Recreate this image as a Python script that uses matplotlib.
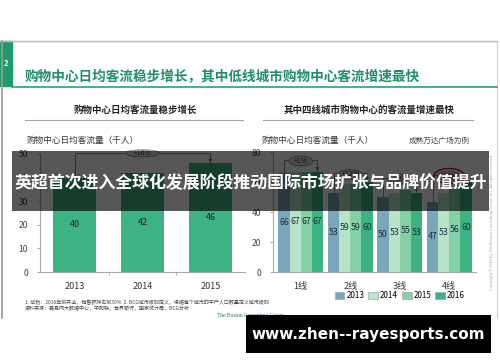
import matplotlib
matplotlib.use("Agg")
import matplotlib.pyplot as plt
from matplotlib.patches import Rectangle, Ellipse
import numpy as np

plt.rcParams['font.family'] = ['Noto Sans CJK SC', 'DejaVu Sans']

# ---------------- data ----------------
left_years = ["2013", "2014", "2015"]
left_values = [40, 42, 46]
left_growth = "+16%"

tiers = ["1线", "2线", "3线", "4线"]
series_years = ["2013", "2014", "2015", "2016"]
v2013 = [66, 53, 50, 47]
v2014 = [67, 59, 53, 53]
v2015 = [67, 59, 55, 56]
v2016 = [67, 60, 53, 60]
tier_growth = ["+1%", "+12%", "+6%", "+28%"]

W, H = 500, 362
fig = plt.figure(figsize=(W / 100, H / 100), dpi=100)
fig.patch.set_facecolor("white")


def fx(x):
    return x / W


def fy(y):
    return 1 - y / H


def add_ax(x0, y0, x1, y1):
    return fig.add_axes([fx(x0), fy(y1), fx(x1 - x0), (y1 - y0) / H])


# background overlay axis for slide decorations
bg = fig.add_axes([0, 0, 1, 1])
bg.set_xlim(0, W)
bg.set_ylim(H, 0)
bg.axis("off")
bg.set_zorder(0)

# slide frame
bg.plot([0, 497], [41, 41], color="#b5b5b5", lw=1)
bg.plot([2, 2], [41, 318], color="#9a9a9a", lw=1.2)
bg.plot([497, 497], [41, 318], color="#d0d0d0", lw=0.8)
bg.add_patch(Rectangle((0, 41), 12, 45, color="#1f9a6a"))
bg.text(6, 64, "2", color="white", fontsize=5.5, fontweight="bold", ha="center", va="center")
bg.plot([12, 497], [86.5, 86.5], color="#2aa07a", lw=1.2)
bg.text(25, 77, "购物中心日均客流稳步增长，其中低线城市购物中心客流增速最快",
        color="#1f8f64", fontsize=9.8, fontweight="bold", ha="left", va="center")

# subtitles
bg.text(135, 110, "购物中心日均客流量稳步增长", fontsize=6.8, fontweight="bold",
        color="#222222", ha="center", va="center")
bg.plot([25, 243], [120, 120], color="#9aa8a8", lw=0.8)
bg.text(369, 110, "其中四线城市购物中心的客流量增速最快", fontsize=6.8, fontweight="bold",
        color="#222222", ha="center", va="center")
bg.plot([263, 473], [120, 120], color="#9aa8a8", lw=0.8)

bg.text(27, 140, "购物中心日均客流量（千人）", fontsize=6.2, color="#333333", ha="left", va="center")
bg.text(262, 140, "购物中心日均客流量（千人）", fontsize=6.2, color="#333333", ha="left", va="center")
bg.text(470, 141, "成熟万达广场为例", fontsize=5.5, color="#444444", style="italic",
        ha="right", va="center")

# footnotes
bg.text(25, 302, "1. 成熟：2016年前开业，销售额排名前30%  2. BCG城市级别定义，根据每个城市的中产人口数量定义城市级别",
        fontsize=3.6, color="#444444", ha="left", va="center")
bg.text(25, 308, "资料来源：嘉易网大数据中心，中购联，世界银行，国家统计局，BCG分析",
        fontsize=3.6, color="#444444", ha="left", va="center")
bg.text(250, 316, "The Boston Consulting Group", fontsize=4, color="#2a6a50",
        ha="center", va="center", family="Liberation Serif")
bg.text(492, 222, "Copyright © 2016 by The Boston Consulting Group, Inc. All rights reserved.",
        fontsize=2.8, color="#a0a0a0", rotation=90, ha="center", va="center")

tick_color = "#444444"

# ---------------- left chart ----------------
axl = add_ax(40, 154, 245, 272)
axl.set_zorder(1)
axl.patch.set_alpha(0)
xl = np.arange(len(left_years))
axl.bar(xl, left_values, width=0.63, color="#3db383", zorder=2)
for x, v in zip(xl, left_values):
    axl.text(x, v / 2, str(v), ha="center", va="center", fontsize=6.5, color="#222222")
axl.set_xlim(-0.51, 2.51)
axl.set_ylim(0, 50)
axl.set_yticks([0, 10, 20, 30, 40, 50])
axl.set_xticks(xl)
axl.set_xticklabels(left_years)
axl.set_xticks([0.5, 1.5], minor=True)
axl.tick_params(axis="x", which="major", length=0, labelsize=6.5, colors="#333333", pad=7)
axl.tick_params(axis="x", which="minor", length=2.5, color="#aaaaaa")
axl.tick_params(axis="y", length=2.5, labelsize=6.2, colors=tick_color, color="#aaaaaa", pad=6)
for s in ["top", "right"]:
    axl.spines[s].set_visible(False)
for s in ["left", "bottom"]:
    axl.spines[s].set_color("#aaaaaa")
    axl.spines[s].set_linewidth(0.8)
# bracket
yb = 50.3
axl.plot([0, 0, 2, 2], [left_values[0], yb, yb, left_values[2] + 1.5], color="#777777", lw=0.6,
         clip_on=False, zorder=3)
axl.annotate("", xy=(2, left_values[2] + 0.3), xytext=(2, left_values[2] + 2),
             arrowprops=dict(arrowstyle="-|>", color="#777777", lw=0.6, mutation_scale=5),
             annotation_clip=False)
axl.add_patch(Ellipse((1.0, yb), 0.5, 3.0, facecolor="#dddddd", edgecolor="#888888", lw=0.6,
                      clip_on=False, zorder=4))
axl.text(1.0, yb, left_growth, fontsize=5, ha="center", va="center", color="#333333", zorder=5)

# ---------------- right chart ----------------
axr = add_ax(273, 152, 476, 272)
axr.set_zorder(1)
axr.patch.set_alpha(0)
xr = np.arange(len(tiers))
colors = ["#7aa6bc", "#b7e4c9", "#86d0a8", "#3db383"]
series = [v2013, v2014, v2015, v2016]
bw = 0.225
offsets = (np.arange(4) - 1.5) * bw
for i, (vals, c, lab) in enumerate(zip(series, colors, series_years)):
    axr.bar(xr + offsets[i], vals, width=bw, color=c, label=lab, zorder=2)
    for x, v in zip(xr + offsets[i], vals):
        axr.text(x, v / 2, str(v), ha="center", va="center", fontsize=6.3, color="#1e2e3e")
axr.set_xlim(-0.56, 3.54)
axr.set_ylim(0, 80)
axr.set_yticks([0, 20, 40, 60, 80])
axr.set_xticks(xr)
axr.set_xticklabels(tiers)
axr.tick_params(axis="x", length=0, labelsize=6.5, colors="#333333", pad=7)
axr.tick_params(axis="y", length=2.5, labelsize=6.2, colors=tick_color, color="#aaaaaa", pad=6)
for s in ["top", "right"]:
    axr.spines[s].set_visible(False)
for s in ["left", "bottom"]:
    axr.spines[s].set_color("#aaaaaa")
    axr.spines[s].set_linewidth(0.8)
bracket_y = [75, 66, 63, 65]
for i in range(4):
    y0 = v2013[i]
    y3 = v2016[i]
    yb = bracket_y[i]
    xa = xr[i] + offsets[0]
    xb = xr[i] + offsets[3]
    axr.plot([xa, xa, xb, xb], [y0, yb, yb, y3 + 2], color="#777777", lw=0.6,
             clip_on=False, zorder=3)
    axr.annotate("", xy=(xb, y3 + 0.3), xytext=(xb, y3 + 2.5),
                 arrowprops=dict(arrowstyle="-|>", color="#777777", lw=0.6, mutation_scale=5),
                 annotation_clip=False)
    axr.add_patch(Ellipse((xr[i], yb - 1), 0.48, 6.5, facecolor="#dddddd", edgecolor="#888888",
                          lw=0.6, clip_on=False, zorder=4))
    axr.text(xr[i], yb - 1, tier_growth[i], fontsize=5, ha="center", va="center",
             color="#333333", zorder=5)
    if i == 3:
        axr.add_patch(Ellipse((xr[i], yb - 1), 0.62, 10, facecolor="none", edgecolor="#b02020",
                              lw=1.0, clip_on=False, zorder=5))
leg = axr.legend(loc="upper center", bbox_to_anchor=(0.625, -0.135), ncol=4, frameon=False,
                 fontsize=5.8, handlelength=1.2, handleheight=0.9, handletextpad=0.25,
                 columnspacing=0.5, borderaxespad=0)
for h in leg.legend_handles:
    h.set_edgecolor("#999999")
    h.set_linewidth(0.4)

# ---------------- overlays ----------------
ov = fig.add_axes([0, 0, 1, 1])
ov.set_xlim(0, W)
ov.set_ylim(H, 0)
ov.axis("off")
ov.set_zorder(10)
ov.patch.set_alpha(0)
ov.add_patch(Rectangle((12, 151), 477, 60, facecolor="black", alpha=0.66, edgecolor="none"))
ov.text(250.5, 183, "英超首次进入全球化发展阶段推动国际市场扩张与品牌价值提升",
        fontsize=12.2, fontweight="bold", color="white", ha="center", va="center")
ov.add_patch(Rectangle((246, 315), 245, 38, facecolor="black", edgecolor="none"))
ov.text(368, 334, "www.zhen--rayesports.com", fontsize=11, fontweight="bold",
        color="white", ha="center", va="center", family="DejaVu Sans")

fig.savefig("out.png", dpi=100)
